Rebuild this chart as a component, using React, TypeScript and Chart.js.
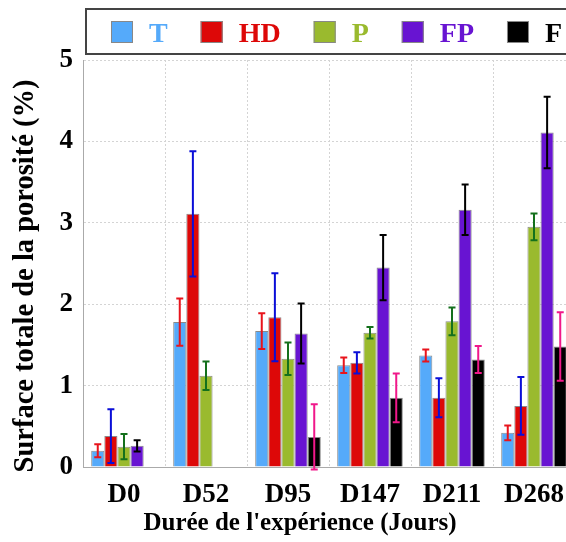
import React, { useEffect, useRef } from "react";
import { Chart, registerables } from "chart.js";

Chart.register(...registerables);

const categories = ["D0", "D52", "D95", "D147", "D211", "D268"];
const seriesNames = ["T", "HD", "P", "FP", "F"];

const T_values = [0.2, 1.78, 1.67, 1.25, 1.37, 0.42];
const T_errors = [0.08, 0.29, 0.22, 0.095, 0.075, 0.09];
const HD_values = [0.38, 3.11, 1.84, 1.28, 0.85, 0.75];
const HD_errors = [0.33, 0.77, 0.54, 0.13, 0.24, 0.355];
const P_values = [0.25, 1.12, 1.33, 1.65, 1.79, 2.95];
const P_errors = [0.155, 0.175, 0.2, 0.07, 0.17, 0.165];
const FP_values = [0.26, null, 1.64, 2.45, 3.16, 4.11];
const FP_errors = [0.07, null, 0.37, 0.4, 0.31, 0.44];
const F_values = [null, null, 0.37, 0.85, 1.32, 1.48];
const F_errors = [null, null, 0.4, 0.3, 0.165, 0.42];

const yMin = 0;
const yMax = 5;
const yStep = 1;

const xTitle = "Durée de l'expérience (Jours)";
const yTitle = "Surface totale de la porosité (%)";

const fillColors = ["#55aafa", "#dd0808", "#9aba2e", "#6814d2", "#000000"];
const errorColors = ["#e8141c", "#0a0ed8", "#14701c", "#000000", "#f0188a"];
const legendTextColors = ["#55aafa", "#dd0808", "#9aba2e", "#6814d2", "#000000"];

const allValues = [T_values, HD_values, P_values, FP_values, F_values];
const allErrors = [T_errors, HD_errors, P_errors, FP_errors, F_errors];

const FONT = "'Liberation Serif', 'Times New Roman', serif";

const errorBarPlugin = {
  id: "errorBars",
  afterDatasetsDraw(chart: any) {
    const ctx = chart.ctx;
    const yScale = chart.scales.y;
    ctx.save();
    chart.data.datasets.forEach((ds: any, di: number) => {
      const meta = chart.getDatasetMeta(di);
      const errs = allErrors[di];
      meta.data.forEach((bar: any, i: number) => {
        const v = ds.data[i];
        const e = errs[i];
        if (v == null || e == null) return;
        const x = bar.x;
        const yTop = yScale.getPixelForValue(v + e);
        const yBot = yScale.getPixelForValue(v - e);
        const cap = 3.5;
        ctx.strokeStyle = errorColors[di];
        ctx.lineWidth = 2;
        ctx.beginPath();
        ctx.moveTo(x, yTop);
        ctx.lineTo(x, yBot);
        ctx.moveTo(x - cap, yTop);
        ctx.lineTo(x + cap, yTop);
        ctx.moveTo(x - cap, yBot);
        ctx.lineTo(x + cap, yBot);
        ctx.stroke();
      });
    });
    ctx.restore();
  },
};

const boxLegendPlugin = {
  id: "boxLegend",
  afterDraw(chart: any) {
    const ctx = chart.ctx;
    ctx.save();
    ctx.strokeStyle = "#444444";
    ctx.lineWidth = 2;
    ctx.strokeRect(86, 9, 560, 45);
    ctx.font = `bold 28px ${FONT}`;
    ctx.textBaseline = "alphabetic";
    ctx.textAlign = "left";
    let x = 111;
    seriesNames.forEach((name, i) => {
      ctx.fillStyle = fillColors[i];
      ctx.fillRect(x, 21, 22, 22);
      ctx.strokeStyle = "#888888";
      ctx.lineWidth = 1;
      ctx.strokeRect(x + 0.5, 21.5, 21, 21);
      ctx.fillStyle = legendTextColors[i];
      const tx = x + 38;
      ctx.fillText(name, tx, 42);
      x = tx + ctx.measureText(name).width + 33;
    });
    ctx.restore();
  },
};

const axisTitlesPlugin = {
  id: "axisTitles",
  afterDraw(chart: any) {
    const ctx = chart.ctx;
    ctx.save();
    ctx.fillStyle = "#000";
    ctx.textAlign = "center";
    ctx.textBaseline = "alphabetic";
    ctx.font = `bold 25px ${FONT}`;
    ctx.fillText(xTitle, 300, 530);
    ctx.translate(33, 276);
    ctx.rotate(-Math.PI / 2);
    ctx.font = `bold 28.5px ${FONT}`;
    ctx.fillText(yTitle, 0, 0);
    ctx.restore();
  },
};

export default function App() {
  const canvasRef = useRef<HTMLCanvasElement | null>(null);

  useEffect(() => {
    if (!canvasRef.current) return;
    const chart = new Chart(canvasRef.current, {
      type: "bar",
      data: {
        labels: categories,
        datasets: seriesNames.map((name, i) => ({
          label: name,
          data: allValues[i],
          backgroundColor: fillColors[i],
          borderColor: "#8a8a8a",
          borderWidth: 1,
          categoryPercentage: 0.8,
          barPercentage: 1,
        })),
      },
      options: {
        animation: false,
        responsive: false,
        maintainAspectRatio: false,
        layout: { padding: { top: 60, right: 25, left: 0, bottom: 0 } },
        plugins: {
          legend: { display: false },
          tooltip: { enabled: false },
        },
        scales: {
          x: {
            grid: { color: "#d4d4d4", drawTicks: false, offset: true },
            border: { color: "#aaaaaa", dash: [2, 2] },
            ticks: {
              color: "#000",
              padding: 12,
              font: { family: FONT, size: 27, weight: "bold" },
            },
            afterFit: (s: any) => {
              s.height = 75;
            },
          },
          y: {
            min: yMin,
            max: yMax,
            grid: { color: "#d4d4d4", drawTicks: false },
            border: { color: "#aaaaaa", dash: [2, 2] },
            ticks: {
              stepSize: yStep,
              color: "#000",
              padding: 10,
              font: { family: FONT, size: 27, weight: "bold" },
            },
            afterFit: (s: any) => {
              s.width = 83;
            },
          },
        },
      },
      plugins: [errorBarPlugin, boxLegendPlugin, axisTitlesPlugin],
    });
    return () => chart.destroy();
  }, []);

  return (
    <div
      style={{
        position: "fixed",
        left: 0,
        top: 0,
        width: 566,
        height: 542,
        overflow: "hidden",
        background: "#fff",
      }}
    >
      <canvas ref={canvasRef} width={600} height={542} style={{ width: 600, height: 542 }} />
    </div>
  );
}
